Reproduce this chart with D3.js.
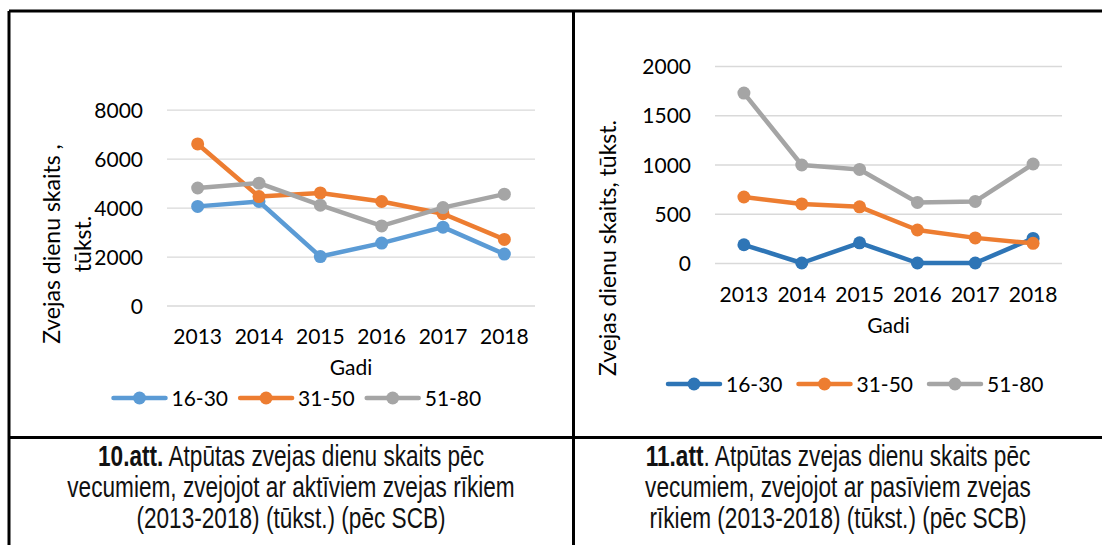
<!DOCTYPE html>
<html>
<head>
<meta charset="utf-8">
<script src="https://cdn.jsdelivr.net/npm/d3@7"></script>
<style>
	body { margin: 0; background: #fff; }
	svg { display: block; font-family: Lato, 'Open Sans', sans-serif; }
	.tick text { font-size: 21px; fill: #000; font-family: Lato, 'Open Sans', sans-serif; }
	.caption { font-family: 'Liberation Sans', Arial, sans-serif; font-size: 29px; fill: #111; }
</style>
</head>
<body>
<svg id="graphic" width="1102" height="545"></svg>
<script>
// categories
var years = ['2013', '2014', '2015', '2016', '2017', '2018'];
var seriesNames = ['16-30', '31-50', '51-80'];

// 10.att. - aktīvie zvejas rīki
var active_16_30 = [4050, 4250, 2000, 2550, 3200, 2100];
var active_31_50 = [6600, 4450, 4600, 4250, 3750, 2700];
var active_51_80 = [4800, 5000, 4100, 3250, 4000, 4550];
var activeTicks = [0, 2000, 4000, 6000, 8000];

// 11.att. - pasīvie zvejas rīki
var passive_16_30 = [185, 0, 205, 0, 0, 250];
var passive_31_50 = [670, 600, 570, 335, 255, 200];
var passive_51_80 = [1725, 995, 950, 615, 625, 1005];
var passiveTicks = [0, 500, 1000, 1500, 2000];

var svg = d3.select('#graphic');

// table borders
var borders = [
	[9, 11, 1110, 11],
	[9, 11, 9, 545],
	[573.5, 11, 573.5, 545],
	[9, 437.5, 1110, 437.5]
];
svg.selectAll('line.border')
	.data(borders)
	.join('line')
	.attr('class', 'border')
	.attr('x1', d => d[0]).attr('y1', d => d[1])
	.attr('x2', d => d[2]).attr('y2', d => d[3])
	.attr('stroke', '#000')
	.attr('stroke-width', 3);

function drawChart(opt) {
	var g = svg.append('g');
	var w = opt.right - opt.left;

	var x = d3.scaleBand().domain(years).range([opt.left, opt.right]).padding(0);
	var y = d3.scaleLinear().domain(opt.domain).range([opt.bottom, opt.top]);

	// y axis + gridlines
	var yAxis = g.append('g')
		.attr('transform', 'translate(' + opt.left + ',0)')
		.call(d3.axisLeft(y).tickValues(opt.ticks).tickSize(-w).tickPadding(24).tickFormat(d3.format('d')));
	yAxis.select('.domain').remove();
	yAxis.selectAll('line').attr('stroke', '#d9d9d9').attr('stroke-width', 1.3);
	yAxis.selectAll('text').attr('dy', '0.36em');

	// x axis labels
	var xAxis = g.append('g')
		.attr('transform', 'translate(0,' + opt.bottom + ')')
		.call(d3.axisBottom(x).tickSize(0));
	xAxis.select('.domain').remove();
	xAxis.selectAll('text').attr('y', 38.5).attr('dy', 0);

	// x axis title
	g.append('text')
		.attr('x', (opt.left + opt.right) / 2)
		.attr('y', opt.bottom + 69.5)
		.attr('text-anchor', 'middle')
		.style('font-size', '21px')
		.text('Gadi');

	// y axis title
	var yt = g.append('text')
		.attr('transform', 'translate(' + opt.yTitleX + ',' + opt.yTitleY + ') rotate(-90)')
		.attr('text-anchor', 'middle')
		.style('font-size', '23px');
	opt.yTitle.forEach(function (t, i) {
		yt.append('tspan').attr('x', 0).attr('dy', i === 0 ? 0 : 31).text(t);
	});

	// lines and markers
	var line = d3.line().x((d, i) => x(years[i]) + x.bandwidth() / 2).y(d => y(d));
	opt.series.forEach(function (s, k) {
		g.append('path')
			.datum(s)
			.attr('d', line)
			.attr('fill', 'none')
			.attr('stroke', opt.colors[k])
			.attr('stroke-width', 4.5)
			.attr('stroke-linejoin', 'round');
		g.selectAll('circle.s' + k)
			.data(s)
			.join('circle')
			.attr('class', 's' + k)
			.attr('cx', (d, i) => x(years[i]) + x.bandwidth() / 2)
			.attr('cy', d => y(d))
			.attr('r', 6.5)
			.attr('fill', opt.colors[k]);
	});

	// legend
	var legend = g.selectAll('g.legend')
		.data(seriesNames)
		.join('g')
		.attr('class', 'legend')
		.attr('transform', (d, i) => 'translate(' + (opt.legendX + i * opt.legendStep) + ',' + opt.legendY + ')');
	legend.append('line')
		.attr('x1', 2).attr('x2', 54)
		.attr('stroke', (d, i) => opt.colors[i])
		.attr('stroke-width', 4.5)
		.attr('stroke-linecap', 'round');
	legend.append('circle')
		.attr('cx', 28).attr('r', 6.5)
		.attr('fill', (d, i) => opt.colors[i]);
	legend.append('text')
		.attr('x', 60)
		.attr('dy', '0.36em')
		.style('font-size', '21px')
		.text(d => d);
}

drawChart({
	left: 167, right: 535, top: 109.7, bottom: 305.5,
	domain: [0, 8000], ticks: activeTicks,
	series: [active_16_30, active_31_50, active_51_80],
	colors: ['#5b9bd5', '#ed7d31', '#a5a5a5'],
	yTitle: ['Zvejas dienu skaits ,', 'tūkst.'],
	yTitleX: 60, yTitleY: 244,
	legendX: 111.5, legendStep: 126.6, legendY: 398
});

drawChart({
	left: 715, right: 1062, top: 66, bottom: 263,
	domain: [0, 2000], ticks: passiveTicks,
	series: [passive_16_30, passive_31_50, passive_51_80],
	colors: ['#2e75b6', '#ed7d31', '#a5a5a5'],
	yTitle: ['Zvejas dienu skaits, tūkst.'],
	yTitleX: 616, yTitleY: 248,
	legendX: 666, legendStep: 130.5, legendY: 384
});

// captions (narrow face imitated with a horizontal squeeze)
var captions = [
	{ cx: 291, lines: [[['10.att.', true], [' Atpūtas zvejas dienu skaits pēc', false]], [['vecumiem, zvejojot ar aktīviem zvejas rīkiem', false]], [['(2013-2018) (tūkst.) (pēc SCB)', false]]] },
	{ cx: 838, lines: [[['11.att', true], ['. Atpūtas zvejas dienu skaits pēc', false]], [['vecumiem, zvejojot ar pasīviem zvejas', false]], [['rīkiem (2013-2018) (tūkst.) (pēc SCB)', false]]] }
];
captions.forEach(function (c) {
	c.lines.forEach(function (ln, i) {
		var t = svg.append('text')
			.attr('class', 'caption')
			.attr('transform', 'translate(' + c.cx + ',' + (466 + i * 31) + ') scale(0.78,1)')
			.attr('text-anchor', 'middle');
		ln.forEach(function (part) {
			t.append('tspan')
				.style('font-weight', part[1] ? 'bold' : 'normal')
				.text(part[0]);
		});
	});
});
</script>
</body>
</html>
